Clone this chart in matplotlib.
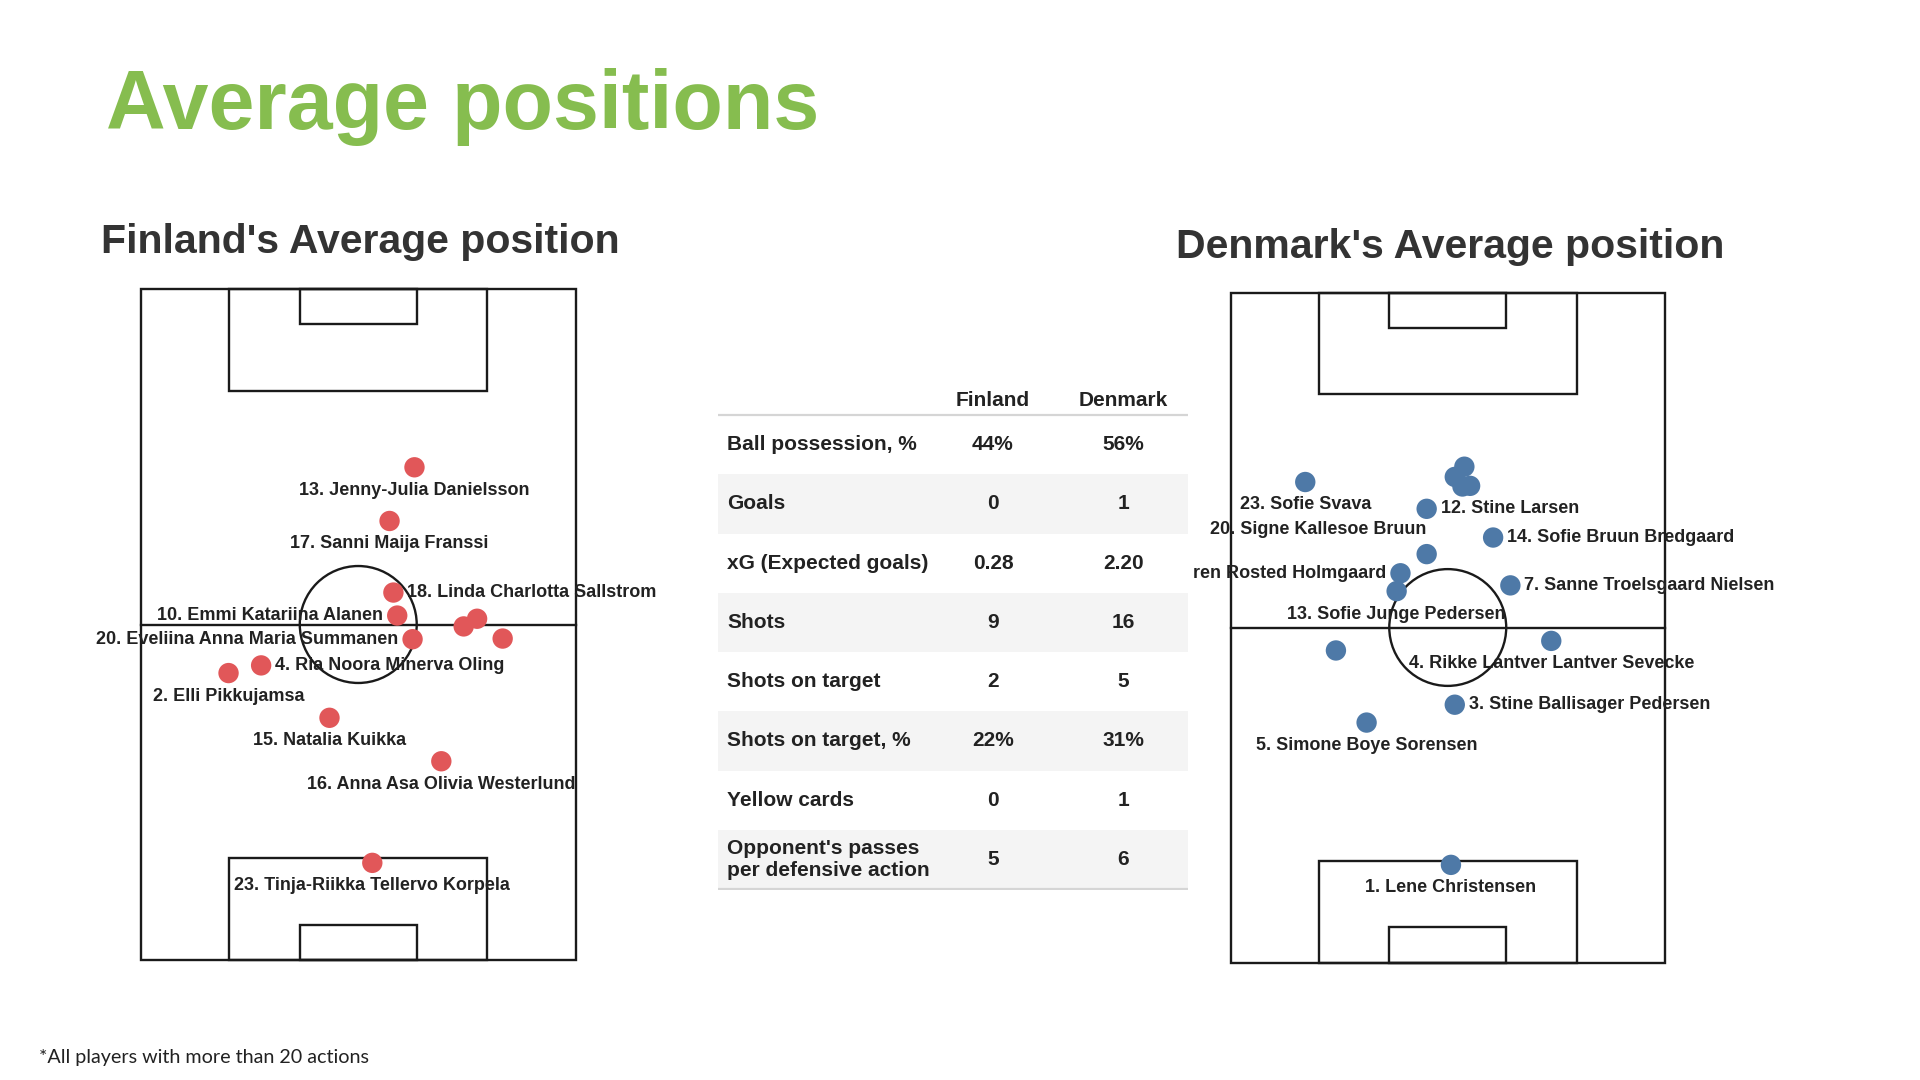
import matplotlib
matplotlib.use("Agg")
import matplotlib.pyplot as plt
from matplotlib.patches import Rectangle, Circle

# ---------------- data ----------------
fin_players = ["13. Jenny-Julia Danielsson", "17. Sanni Maija Franssi",
               "18. Linda Charlotta Sallstrom", "10. Emmi Katariina Alanen",
               "20. Eveliina Anna Maria Summanen", "", "", "",
               "4. Ria Noora Minerva Oling", "2. Elli Pikkujamsa",
               "15. Natalia Kuikka", "16. Anna Asa Olivia Westerlund",
               "23. Tinja-Riikka Tellervo Korpela"]
fin_x = [42.8, 38.9, 39.5, 40.1, 42.5, 50.5, 52.6, 56.6, 18.8, 13.7, 29.5, 47.0, 36.2]
fin_y = [77.1, 68.7, 57.5, 53.9, 50.2, 52.2, 53.4, 50.3, 46.1, 44.9, 37.9, 31.1, 15.2]

den_players = ["23. Sofie Svava", "", "", "", "", "12. Stine Larsen",
               "20. Signe Kallesoe Bruun", "14. Sofie Bruun Bredgaard",
               "ren Rosted Holmgaard", "13. Sofie Junge Pedersen",
               "7. Sanne Troelsgaard Nielsen", "",
               "4. Rikke Lantver Lantver Sevecke", "3. Stine Ballisager Pedersen",
               "5. Simone Boye Sorensen", "1. Lene Christensen"]
den_x = [11.7, 36.6, 35.1, 37.5, 36.3, 30.7, 30.7, 41.1, 26.6, 26.0, 43.8, 16.5, 50.2, 35.1, 21.3, 34.5]
den_y = [75.3, 77.7, 76.1, 74.7, 74.6, 71.1, 64.0, 66.6, 61.0, 58.2, 59.1, 48.9, 50.4, 40.4, 37.6, 15.3]

teams = ["Finland", "Denmark"]
stat_names = ["Ball possession, %", "Goals", "xG (Expected goals)", "Shots",
              "Shots on target", "Shots on target, %", "Yellow cards",
              "Opponent's passes\nper defensive action"]
fin_stats = ["44%", "0", "0.28", "9", "2", "22%", "0", "5"]
den_stats = ["56%", "1", "2.20", "16", "5", "31%", "1", "6"]

# ---------------- layout / style ----------------
fin_label_side = ["below", "below", "right", "left", "left", None, None, None,
                  "right", "below", "below", "below", "below"]
den_label_side = ["below", None, None, None, None, "right", "custom", "right",
                  "left", "below", "right", None, "below", "right", "below", "below"]
den_custom_offset = {6: (-17.0, 3.8)}

RED = "#E15759"
BLUE = "#4E79A7"
GREEN = "#86BD4F"
TXT = "#222222"
LABEL_FONT = dict(family="Liberation Sans", fontweight="bold", fontsize=13, color=TXT)

W, H = 1920, 1080
fig = plt.figure(figsize=(W / 100, H / 100), dpi=100)
fig.patch.set_facecolor("white")


def px_axes(left, top, width, height):
    return fig.add_axes([left / W, (H - top - height) / H, width / W, height / H])


def draw_pitch(ax):
    lc, lw = "#1a1a1a", 1.7
    kw = dict(fill=False, ec=lc, lw=lw, clip_on=False, zorder=1)
    ax.add_patch(Rectangle((0, 0), 68, 105, **kw))
    ax.plot([0, 68], [52.5, 52.5], color=lc, lw=lw, clip_on=False, zorder=1)
    ax.add_patch(Circle((34, 52.5), 9.15, **kw))
    for y0, sgn in [(0, 1), (105, -1)]:
        ax.add_patch(Rectangle((34 - 20.16, y0), 40.32, 15.9 * sgn, **kw))
        ax.add_patch(Rectangle((34 - 9.16, y0), 18.32, 5.5 * sgn, **kw))
    ax.set_xlim(0, 68)
    ax.set_ylim(0, 105)
    ax.axis("off")


def draw_players(ax, names, xs, ys, sides, color, offsets=None):
    ax.scatter(xs, ys, s=215, color=color, edgecolors="none", zorder=3, clip_on=False)
    for i, (n, x, y, s) in enumerate(zip(names, xs, ys, sides)):
        if not n or s is None:
            continue
        if s == "below":
            ax.text(x, y - 3.6, n, ha="center", va="center", zorder=4, clip_on=False, **LABEL_FONT)
        elif s == "right":
            ax.text(x + 2.2, y, n, ha="left", va="center", zorder=4, clip_on=False, **LABEL_FONT)
        elif s == "left":
            ax.text(x - 2.2, y, n, ha="right", va="center", zorder=4, clip_on=False, **LABEL_FONT)
        else:
            dx, dy = offsets[i]
            ax.text(x + dx, y + dy, n, ha="center", va="center", zorder=4, clip_on=False, **LABEL_FONT)


# Finland pitch
ax_f = px_axes(141, 289, 434.5, 671)
draw_pitch(ax_f)
draw_players(ax_f, fin_players, fin_x, fin_y, fin_label_side, RED)

# Denmark pitch
ax_d = px_axes(1230.5, 292.5, 434.5, 670)
draw_pitch(ax_d)
draw_players(ax_d, den_players, den_x, den_y, den_label_side, BLUE, den_custom_offset)

# Titles
fig.text(106 / W, 1 - 129 / H, "Average positions", ha="left", va="baseline",
         family="Liberation Sans", fontweight="bold", fontsize=59.5, color=GREEN)
fig.text(101 / W, 1 - 253 / H, f"{teams[0]}'s Average position", ha="left", va="baseline",
         family="Liberation Sans", fontweight="bold", fontsize=29.5, color="#333333")
fig.text(1176 / W, 1 - 258 / H, f"{teams[1]}'s Average position", ha="left", va="baseline",
         family="Liberation Sans", fontweight="bold", fontsize=29.5, color="#333333")
fig.text(39 / W, 1 - 1063 / H, "*All players with more than 20 actions", ha="left",
         va="baseline", family="Lato", fontsize=14.2, color=TXT)

# Table
tab = px_axes(718, 380, 470, 510)
nrows = len(stat_names)
row_h = 59.25
tab.set_xlim(0, 1)
tab.set_ylim(510 / row_h - 35 / row_h, -35 / row_h)
tab.axis("off")
for i in range(nrows):
    if i % 2 == 1:
        tab.axhspan(i, i + 1, color="#F4F4F4", lw=0, zorder=0)
tab.axhline(0, color="#D5D5D5", lw=1.6, zorder=1)
tab.axhline(nrows, color="#D5D5D5", lw=1.6, zorder=1)
TAB_FONT = dict(family="Liberation Sans", fontweight="bold", fontsize=15, color=TXT)
col_x = [0.585, 0.862]
for t, cx in zip(teams, col_x):
    tab.text(cx, -0.24, t, ha="center", va="center", **TAB_FONT)
for i, (name, fv, dv) in enumerate(zip(stat_names, fin_stats, den_stats)):
    tab.text(0.019, i + 0.5, name, ha="left", va="center", linespacing=1.15, **TAB_FONT)
    tab.text(col_x[0], i + 0.5, fv, ha="center", va="center", **TAB_FONT)
    tab.text(col_x[1], i + 0.5, dv, ha="center", va="center", **TAB_FONT)

fig.savefig("out.png", dpi=100, facecolor="white")
